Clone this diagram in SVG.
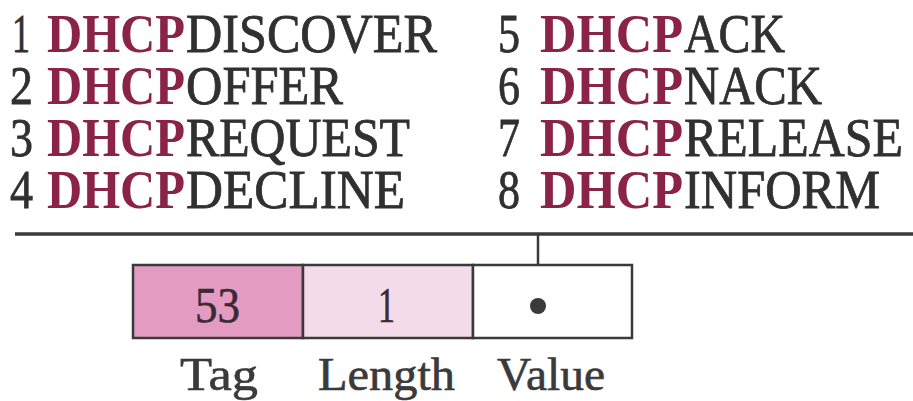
<svg xmlns="http://www.w3.org/2000/svg" width="913" height="401" viewBox="0 0 913 401" font-family="Liberation Serif, Tinos, Times New Roman, serif">
  <style>
    text { font-family: 'Liberation Serif', Tinos, 'Times New Roman', serif; }
    .t { font-size: 54px; fill: #303030; stroke: #303030; stroke-width: 0.8; }
    .k { font-size: 54px; font-weight: bold; fill: #8a2347; }
    .lbl { font-size: 46px; fill: #3a3a3a; stroke: #3a3a3a; stroke-width: 0.6; }
    .num { font-size: 50px; fill: #3a2a33; stroke: #3a2a33; stroke-width: 0.6; }
    .cell { stroke: #3a3a3a; stroke-width: 2.5; }
  </style>
  <rect width="913" height="401" fill="#ffffff"/>

  <!-- message type list -->
  <g id="types-left">
    <text class="t" x="12" y="52" textLength="18" lengthAdjust="spacingAndGlyphs">1</text>
    <text class="k" x="47" y="52" textLength="138" lengthAdjust="spacingAndGlyphs">DHCP</text>
    <text class="t" x="186" y="52" textLength="251" lengthAdjust="spacingAndGlyphs">DISCOVER</text>

    <text class="t" x="10" y="104" textLength="23" lengthAdjust="spacingAndGlyphs">2</text>
    <text class="k" x="47" y="104" textLength="138" lengthAdjust="spacingAndGlyphs">DHCP</text>
    <text class="t" x="186" y="104" textLength="157" lengthAdjust="spacingAndGlyphs">OFFER</text>

    <text class="t" x="10" y="156" textLength="23" lengthAdjust="spacingAndGlyphs">3</text>
    <text class="k" x="47" y="156" textLength="138" lengthAdjust="spacingAndGlyphs">DHCP</text>
    <text class="t" x="186" y="156" textLength="224" lengthAdjust="spacingAndGlyphs">REQUEST</text>

    <text class="t" x="10" y="208" textLength="23" lengthAdjust="spacingAndGlyphs">4</text>
    <text class="k" x="47" y="208" textLength="138" lengthAdjust="spacingAndGlyphs">DHCP</text>
    <text class="t" x="186" y="208" textLength="219" lengthAdjust="spacingAndGlyphs">DECLINE</text>
  </g>

  <g id="types-right">
    <text class="t" x="498" y="52" textLength="22" lengthAdjust="spacingAndGlyphs">5</text>
    <text class="k" x="540" y="52" textLength="143" lengthAdjust="spacingAndGlyphs">DHCP</text>
    <text class="t" x="684" y="52" textLength="101" lengthAdjust="spacingAndGlyphs">ACK</text>

    <text class="t" x="498" y="104" textLength="22" lengthAdjust="spacingAndGlyphs">6</text>
    <text class="k" x="540" y="104" textLength="143" lengthAdjust="spacingAndGlyphs">DHCP</text>
    <text class="t" x="684" y="104" textLength="138" lengthAdjust="spacingAndGlyphs">NACK</text>

    <text class="t" x="498" y="156" textLength="22" lengthAdjust="spacingAndGlyphs">7</text>
    <text class="k" x="540" y="156" textLength="143" lengthAdjust="spacingAndGlyphs">DHCP</text>
    <text class="t" x="684" y="156" textLength="219" lengthAdjust="spacingAndGlyphs">RELEASE</text>

    <text class="t" x="498" y="208" textLength="22" lengthAdjust="spacingAndGlyphs">8</text>
    <text class="k" x="540" y="208" textLength="143" lengthAdjust="spacingAndGlyphs">DHCP</text>
    <text class="t" x="684" y="208" textLength="196" lengthAdjust="spacingAndGlyphs">INFORM</text>
  </g>

  <!-- rule under the list and the pointer down to the value field -->
  <g id="connectors" stroke="#3a3a3a" fill="none">
    <line x1="15" y1="234" x2="913" y2="234" stroke-width="3.5"/>
    <line x1="538" y1="234" x2="538" y2="306" stroke-width="2.5"/>
  </g>

  <!-- option fields -->
  <g id="field-tag">
    <rect class="cell" x="133" y="265" width="170" height="73" fill="#e39bc1"/>
    <text class="num" x="195" y="322" textLength="45" lengthAdjust="spacingAndGlyphs">53</text>
    <text class="lbl" x="180" y="390" textLength="78" lengthAdjust="spacingAndGlyphs">Tag</text>
  </g>
  <g id="field-length">
    <rect class="cell" x="303" y="265" width="170" height="73" fill="#f4dbea"/>
    <text class="num" x="378" y="322" textLength="17" lengthAdjust="spacingAndGlyphs">1</text>
    <text class="lbl" x="318" y="390" textLength="137" lengthAdjust="spacingAndGlyphs">Length</text>
  </g>
  <g id="field-value">
    <rect class="cell" x="473" y="265" width="159" height="73" fill="#ffffff"/>
    <circle cx="538" cy="306" r="8" fill="#3a3a3a"/>
    <text class="lbl" x="497" y="390" textLength="108" lengthAdjust="spacingAndGlyphs">Value</text>
  </g>
</svg>
